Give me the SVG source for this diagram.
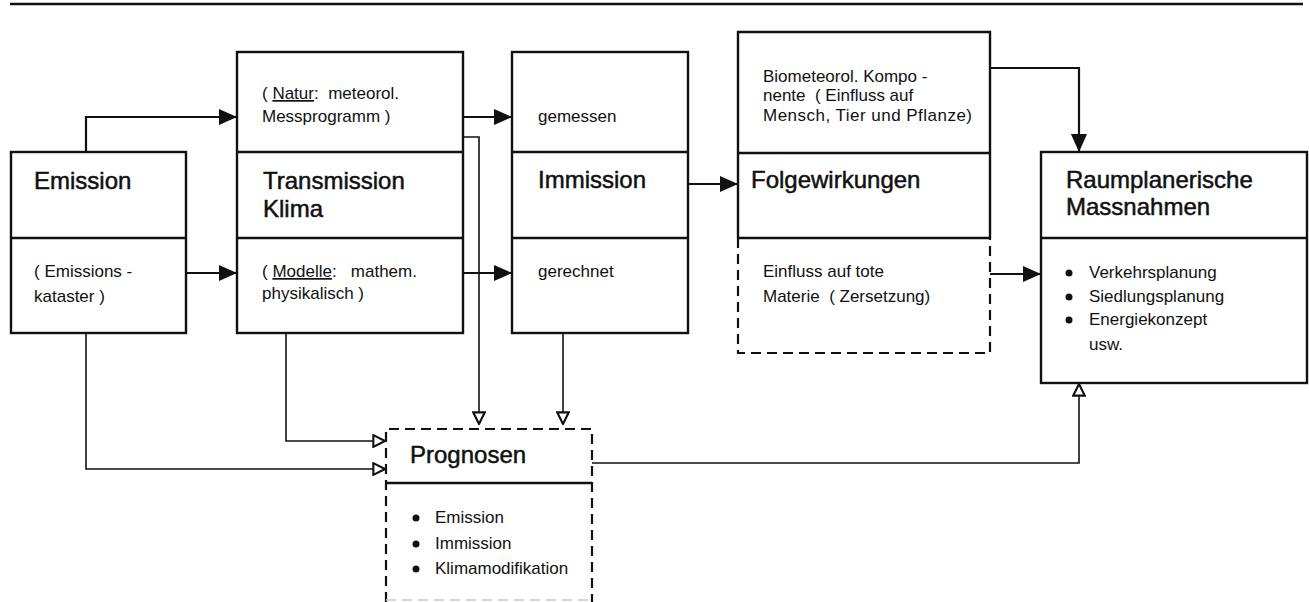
<svg xmlns="http://www.w3.org/2000/svg" width="1309" height="602" viewBox="0 0 1309 602" xml:space="preserve">
<defs>
<style>
.box{fill:none;stroke:#111;stroke-width:2.4}
.dash{fill:none;stroke:#111;stroke-width:2.2;stroke-dasharray:10 6}
.c{fill:none;stroke:#111;stroke-width:2.2}
.o{fill:none;stroke:#111;stroke-width:1.6}
text{font-family:"Liberation Sans",Arial,sans-serif;fill:#111;white-space:pre}
.h{font-size:24px;stroke:#111;stroke-width:0.5}
.s{font-size:17px}
</style>
<marker id="fa" viewBox="0 0 10 10" refX="10" refY="5" markerWidth="18" markerHeight="18" markerUnits="userSpaceOnUse" orient="auto"><path d="M0,0.5 L10,5 L0,9.5 Z" fill="#111"/></marker>
<marker id="oa" viewBox="0 0 12 12" refX="11" refY="6" markerWidth="14" markerHeight="14" markerUnits="userSpaceOnUse" orient="auto"><path d="M1,1 L11,6 L1,11 Z" fill="#fff" stroke="#111" stroke-width="1.8"/></marker>
</defs>
<rect width="1309" height="602" fill="#fff"/>
<line x1="10" y1="4" x2="1303" y2="4" stroke="#111" stroke-width="2.4"/>
<g id="connectors">
<path class="c" d="M86,152 V117 H237" marker-end="url(#fa)"/>
<path class="c" d="M186,273 H237" marker-end="url(#fa)"/>
<path class="c" d="M463,117 H512" marker-end="url(#fa)"/>
<path class="c" d="M463,273 H512" marker-end="url(#fa)"/>
<path class="c" d="M688,184 H738" marker-end="url(#fa)"/>
<path class="c" d="M990,68 H1079 V152" marker-end="url(#fa)"/>
<path class="c" d="M990,274 H1041" marker-end="url(#fa)"/>
<path class="o" d="M463,137 H479 V424" marker-end="url(#oa)"/>
<path class="o" d="M563,333 V424" marker-end="url(#oa)"/>
<path class="o" d="M286,333 V441 H385" marker-end="url(#oa)"/>
<path class="o" d="M86,333 V469 H385" marker-end="url(#oa)"/>
<path class="o" d="M592,463 H1079 V384" marker-end="url(#oa)"/>
</g>
<g id="emission">
<rect class="box" x="11" y="152" width="175" height="181"/>
<line class="box" x1="11" y1="238" x2="186" y2="238"/>
<text class="h" x="34" y="189">Emission</text>
<text class="s" x="34" y="277">( Emissions -</text>
<text class="s" x="34" y="302">kataster )</text>
</g>
<g id="transmission">
<rect class="box" x="237" y="52" width="226" height="281"/>
<line class="box" x1="237" y1="152" x2="463" y2="152"/>
<line class="box" x1="237" y1="238" x2="463" y2="238"/>
<text class="s" x="262" y="99">( <tspan text-decoration="underline">Natur</tspan>:  meteorol.</text>
<text class="s" x="262" y="122">Messprogramm )</text>
<text class="h" x="263" y="189">Transmission</text>
<text class="h" x="263" y="217">Klima</text>
<text class="s" x="262" y="277">( <tspan text-decoration="underline">Modelle</tspan>:   mathem.</text>
<text class="s" x="262" y="299">physikalisch )</text>
</g>
<g id="immission">
<rect class="box" x="512" y="52" width="176" height="281"/>
<line class="box" x1="512" y1="152" x2="688" y2="152"/>
<line class="box" x1="512" y1="238" x2="688" y2="238"/>
<text class="s" x="538" y="122">gemessen</text>
<text class="h" x="538" y="188">Immission</text>
<text class="s" x="538" y="277">gerechnet</text>
</g>
<g id="folgewirkungen">
<path class="box" d="M738,238 V32 H990 V238"/>
<line class="box" x1="738" y1="153" x2="990" y2="153"/>
<line class="box" x1="738" y1="238" x2="990" y2="238"/>
<path class="dash" d="M738,238 V353 H990 V238"/>
<text class="s" x="763" y="82">Biometeorol. Kompo -</text>
<text class="s" x="763" y="101">nente  ( Einfluss auf</text>
<text class="s" x="763" y="121" textLength="209">Mensch, Tier und Pflanze)</text>
<text class="h" x="751" y="188">Folgewirkungen</text>
<text class="s" x="763" y="277">Einfluss auf tote</text>
<text class="s" x="763" y="302">Materie  ( Zersetzung)</text>
</g>
<g id="raumplanerische">
<rect class="box" x="1041" y="152" width="266" height="231"/>
<line class="box" x1="1041" y1="238" x2="1307" y2="238"/>
<text class="h" x="1066" y="188">Raumplanerische</text>
<text class="h" x="1066" y="215">Massnahmen</text>
<circle cx="1069" cy="273" r="3.5" fill="#111"/>
<circle cx="1069" cy="297" r="3.5" fill="#111"/>
<circle cx="1069" cy="320" r="3.5" fill="#111"/>
<text class="s" x="1089" y="278">Verkehrsplanung</text>
<text class="s" x="1089" y="302">Siedlungsplanung</text>
<text class="s" x="1089" y="325">Energiekonzept</text>
<text class="s" x="1089" y="350">usw.</text>
</g>
<g id="prognosen">
<path class="dash" d="M386,602 V429 H592 V602"/>
<line class="box" x1="386" y1="483" x2="592" y2="483"/>
<line x1="386" y1="600" x2="592" y2="600" stroke="#ccc" stroke-width="1.5" stroke-dasharray="10 6"/>
<text class="h" x="410" y="463">Prognosen</text>
<circle cx="416" cy="518" r="3.5" fill="#111"/>
<circle cx="416" cy="544" r="3.5" fill="#111"/>
<circle cx="416" cy="569" r="3.5" fill="#111"/>
<text class="s" x="435" y="523">Emission</text>
<text class="s" x="435" y="549">Immission</text>
<text class="s" x="435" y="574">Klimamodifikation</text>
</g>
</svg>
